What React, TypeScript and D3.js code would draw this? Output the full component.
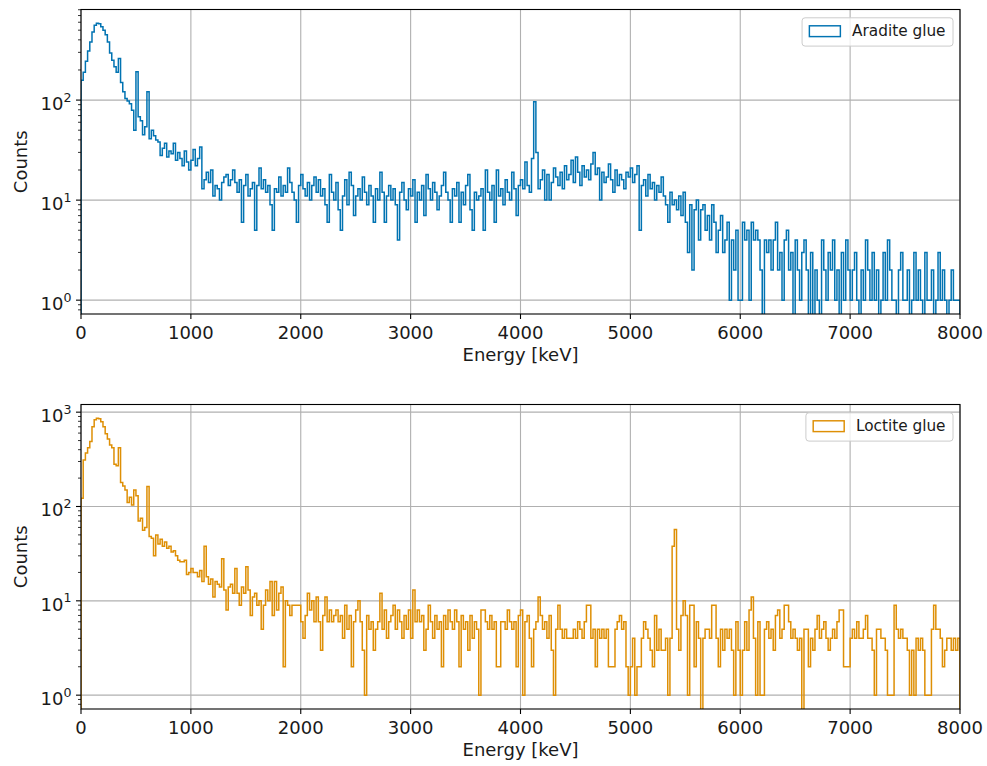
import React from 'react';
import * as d3 from 'd3';

// ---------------- data ----------------
const ENERGY_MAX = 8000; // keV
const BIN_KEV = 20;
const X_TICKS = [0, 1000, 2000, 3000, 4000, 5000, 6000, 7000, 8000];
const SERIES_NAMES = ['Aradite glue', 'Loctite glue'];
const SERIES_COLORS = ['#0173B2', '#DE8F05'];
const X_LABEL = 'Energy [keV]';
const Y_LABEL = 'Counts';

// counts per 20 keV bin, 0 .. 8000 keV
const ARADITE_COUNTS = [
  158, 190, 245, 310, 380, 480, 560, 585, 580, 540,
  500, 450, 380, 295, 250, 215, 190, 261, 150, 121,
  104, 98, 92, 79, 50, 192, 68, 62, 45, 54,
  121, 41, 50, 44, 40, 38, 28, 33, 37, 27,
  31, 29, 37, 25, 30, 26, 22, 31, 24, 20,
  25, 32, 22, 26, 34, 13, 16, 19, 15, 20,
  11, 14, 13, 10, 15, 17, 18, 14, 16, 20,
  15, 12, 16, 6, 14, 18, 11, 13, 15, 5,
  14, 21, 13, 16, 12, 14, 9, 5, 13, 12,
  17, 11, 14, 12, 21, 15, 12, 10, 6, 14,
  18, 13, 11, 15, 10, 14, 17, 12, 16, 11,
  13, 9, 6, 18, 12, 10, 15, 8, 5, 11,
  16, 9, 19, 14, 7, 11, 13, 10, 17, 12,
  9, 14, 11, 6, 13, 10, 19, 12, 6, 11,
  14, 10, 13, 9, 4, 12, 15, 10, 8, 13,
  11, 16, 6, 12, 10, 14, 7, 18, 13, 10,
  15, 12, 8, 11, 14, 19, 12, 10, 6, 13,
  11, 15, 6, 12, 9, 14, 18, 8, 5, 12,
  10, 11, 13, 5, 20, 12, 10, 14, 6, 20,
  11, 13, 9, 16, 12, 10, 19, 13, 7, 14,
  16, 13, 24, 14, 12, 26, 96, 30, 13, 16,
  20, 10, 18, 10, 15, 21, 17, 14, 19, 13,
  22, 16, 18, 25, 15, 27, 19, 14, 22, 17,
  20, 16, 23, 30, 18, 21, 10, 19, 15, 17,
  23, 16, 12, 20, 14, 18, 16, 13, 19, 17,
  21, 15, 18, 22, 5, 14, 16, 11, 18, 13,
  15, 10, 14, 12, 17, 11, 9, 6, 12, 9,
  10, 8, 11, 7, 12, 6, 3, 9, 2, 8,
  10, 4, 8, 9, 5, 7, 4, 9, 6, 3,
  5, 7, 3, 4, 6, 1, 4, 2, 5, 1,
  1, 6, 4, 5, 1, 6, 4, 5, 4, 2,
  0, 4, 3, 4, 2, 4, 6, 2, 3, 1,
  4, 5, 2, 3, 0, 4, 2, 1, 3, 4,
  2, 0, 3, 0, 2, 1, 0, 4, 2, 1,
  3, 2, 4, 1, 2, 0, 3, 1, 4, 2,
  1, 2, 3, 1, 0, 2, 1, 4, 2, 1,
  3, 1, 2, 0, 1, 3, 1, 4, 2, 1,
  1, 0, 2, 3, 1, 1, 2, 0, 1, 3,
  1, 2, 1, 0, 3, 1, 1, 2, 0, 1,
  3, 1, 2, 1, 0, 1, 2, 1, 1, 1,
];

const LOCTITE_COUNTS = [
  122, 312, 370, 420, 490, 700, 830, 860, 850, 790,
  700, 590, 520, 450, 420, 280, 270, 420, 180, 165,
  150, 110, 125, 104, 150, 130, 70, 75, 56, 60,
  163, 48, 46, 30, 50, 40, 45, 38, 42, 36,
  38, 33, 34, 30, 27, 26, 26, 27, 19, 20,
  22, 20, 20, 18, 21, 16, 38, 18, 15, 17,
  11, 16, 15, 14, 28, 13, 8, 14, 15, 12,
  22, 12, 9, 14, 12, 23, 13, 7, 11, 12,
  9, 10, 5, 9, 13, 10, 16, 7, 16, 8,
  12, 14, 2, 10, 9, 7, 9, 9, 9, 9,
  6, 4, 7, 12, 8, 10, 6, 11, 6, 3,
  7, 11, 6, 8, 6, 7, 8, 6, 7, 4,
  9, 5, 7, 2, 6, 8, 10, 6, 3, 1,
  7, 5, 6, 3, 5, 6, 12, 5, 8, 4,
  6, 7, 9, 5, 8, 6, 4, 7, 5, 8,
  4, 13, 6, 8, 6, 7, 3, 5, 9, 6,
  4, 7, 5, 6, 2, 7, 5, 8, 6, 5,
  8, 6, 2, 7, 5, 6, 3, 7, 4, 6,
  5, 1, 8, 8, 6, 5, 7, 5, 6, 2,
  2, 6, 6, 5, 8, 6, 5, 6, 2, 7,
  8, 1, 6, 7, 4, 2, 5, 6, 11, 7,
  5, 6, 4, 7, 3, 1, 5, 9, 5, 4,
  5, 4, 4, 4, 5, 4, 6, 5, 4, 6,
  9, 9, 4, 5, 2, 5, 4, 5, 4, 5,
  2, 2, 2, 5, 6, 7, 5, 6, 2, 1,
  2, 4, 1, 2, 2, 4, 6, 5, 4, 3,
  2, 7, 3, 5, 3, 3, 4, 1, 4, 38,
  57, 5, 3, 7, 10, 7, 1, 9, 9, 2,
  6, 4, 0, 4, 5, 5, 4, 9, 9, 4,
  2, 5, 3, 5, 4, 5, 3, 1, 6, 3,
  1, 3, 6, 3, 8, 11, 4, 1, 6, 1,
  1, 5, 6, 4, 5, 3, 7, 8, 4, 5,
  9, 9, 6, 4, 5, 4, 3, 4, 0, 5,
  5, 2, 4, 3, 5, 7, 4, 5, 6, 4,
  3, 4, 5, 4, 6, 8, 8, 2, 2, 2,
  4, 5, 4, 6, 4, 4, 5, 7, 4, 4,
  3, 1, 5, 5, 4, 4, 3, 1, 1, 1,
  9, 5, 4, 5, 4, 4, 3, 1, 3, 1,
  4, 3, 4, 3, 1, 1, 1, 5, 9, 5,
  5, 4, 2, 3, 4, 4, 3, 4, 3, 4,
];

const SERIES_COUNTS = [ARADITE_COUNTS, LOCTITE_COUNTS];

// ---------------- layout ----------------
const W = 987;
const H = 766;
const LEFT = 81;
const RIGHT = 960;
const PANEL_TOPS = [9.5, 404.5];
const PANEL_H = 304.5;
const FONT = "'DejaVu Sans', sans-serif";
const TICK_FS = 18;
const LABEL_FS = 18;
const LEGEND_FS = 15.3;
const TEXT_COLOR = '#1a1a1a';
const GRID_COLOR = '#b0b0b0';

function measure(text: string, size: number): number {
  try {
    const c = document.createElement('canvas').getContext('2d');
    if (c) {
      c.font = `${size}px 'DejaVu Sans'`;
      return c.measureText(text).width;
    }
  } catch (e) {}
  return text.length * size * 0.55;
}

function Panel({ counts, color, name, top, id }: { counts: number[]; color: string; name: string; top: number; id: string }) {
  const bottom = top + PANEL_H;
  const x = d3.scaleLinear().domain([0, ENERGY_MAX]).range([LEFT, RIGHT]);
  const positive = counts.filter((c) => c > 0);
  const loLog = Math.log10(d3.min(positive) as number);
  const hiLog = Math.log10(d3.max(positive) as number);
  const m = 0.05 * (hiLog - loLog);
  const y = d3.scaleLog().domain([Math.pow(10, loLog - m), Math.pow(10, hiLog + m)]).range([bottom, top]);
  const [d0, d1] = y.domain();

  const majors: number[] = [];
  const minors: number[] = [];
  for (let e = Math.floor(Math.log10(d0)); e <= Math.ceil(Math.log10(d1)); e++) {
    const base = Math.pow(10, e);
    if (base >= d0 && base <= d1) majors.push(e);
    for (let k = 2; k <= 9; k++) {
      const v = k * base;
      if (v >= d0 && v <= d1) minors.push(v);
    }
  }

  const below = bottom + 200;
  const yOf = (v: number) => (v > 0 ? y(v) : below);
  const pts: [number, number][] = [[x(0), below]];
  counts.forEach((c, i) => {
    pts.push([x(i * BIN_KEV), yOf(c)]);
    pts.push([x((i + 1) * BIN_KEV), yOf(c)]);
  });
  pts.push([x(ENERGY_MAX), below]);
  const path = d3.line()(pts) || '';

  const tw = measure(name, LEGEND_FS);
  const boxW = 50 + tw + 7.5;
  const boxX = RIGHT - 7 - boxW;
  const boxY = top + 8.3;

  return (
    <g>
      <defs>
        <clipPath id={id}>
          <rect x={LEFT} y={top} width={RIGHT - LEFT} height={PANEL_H} />
        </clipPath>
      </defs>
      {/* grid */}
      {X_TICKS.map((t) => (
        <line key={'gx' + t} x1={x(t)} x2={x(t)} y1={top} y2={bottom} stroke={GRID_COLOR} strokeWidth={1.1} />
      ))}
      {majors.map((e) => (
        <line key={'gy' + e} x1={LEFT} x2={RIGHT} y1={y(Math.pow(10, e))} y2={y(Math.pow(10, e))} stroke={GRID_COLOR} strokeWidth={1.1} />
      ))}
      {/* histogram step */}
      <path d={path} fill="none" stroke={color} strokeWidth={1.5} strokeLinejoin="miter" clipPath={`url(#${id})`} />
      {/* spines */}
      <rect x={LEFT} y={top} width={RIGHT - LEFT} height={PANEL_H} fill="none" stroke="#000" strokeWidth={1.1} />
      {/* x ticks */}
      {X_TICKS.map((t) => (
        <g key={'xt' + t}>
          <line x1={x(t)} x2={x(t)} y1={bottom} y2={bottom + 5} stroke="#000" strokeWidth={1.1} />
          <text x={x(t)} y={bottom + 25.3} textAnchor="middle" fontSize={TICK_FS} fontFamily={FONT} fill={TEXT_COLOR}>
            {String(t)}
          </text>
        </g>
      ))}
      {/* y ticks */}
      {minors.map((v) => (
        <line key={'ym' + v} x1={LEFT - 3} x2={LEFT} y1={y(v)} y2={y(v)} stroke="#000" strokeWidth={0.8} />
      ))}
      {majors.map((e) => (
        <g key={'yt' + e}>
          <line x1={LEFT - 5} x2={LEFT} y1={y(Math.pow(10, e))} y2={y(Math.pow(10, e))} stroke="#000" strokeWidth={1.1} />
          <text x={LEFT - 9.5} y={y(Math.pow(10, e)) + 10} textAnchor="end" fontSize={TICK_FS} fontFamily={FONT} fill={TEXT_COLOR}>
            10
            <tspan fontSize={12.6} dy={-8.5}>
              {String(e)}
            </tspan>
          </text>
        </g>
      ))}
      {/* axis labels */}
      <text x={(LEFT + RIGHT) / 2} y={bottom + 47} textAnchor="middle" fontSize={LABEL_FS} fontFamily={FONT} fill={TEXT_COLOR}>
        {X_LABEL}
      </text>
      <text
        transform={`translate(26.7, ${(top + bottom) / 2}) rotate(-90)`}
        textAnchor="middle"
        fontSize={LABEL_FS}
        fontFamily={FONT}
        fill={TEXT_COLOR}
      >
        {Y_LABEL}
      </text>
      {/* legend */}
      <rect x={boxX} y={boxY} width={boxW} height={28.3} rx={3} ry={3} fill="#fff" fillOpacity={0.8} stroke="#cccccc" strokeWidth={1} />
      <rect x={boxX + 7.3} y={boxY + 8} width={31} height={10.8} fill="none" stroke={color} strokeWidth={1.45} />
      <text x={boxX + 50} y={boxY + 18} fontSize={LEGEND_FS} fontFamily={FONT} fill={TEXT_COLOR}>
        {name}
      </text>
    </g>
  );
}

export default function App() {
  return (
    <svg width={W} height={H} style={{ position: 'absolute', left: 0, top: 0, background: '#fff' }}>
      <rect x={0} y={0} width={W} height={H} fill="#fff" />
      {SERIES_COUNTS.map((counts, i) => (
        <Panel key={i} id={'clip' + i} counts={counts} color={SERIES_COLORS[i]} name={SERIES_NAMES[i]} top={PANEL_TOPS[i]} />
      ))}
    </svg>
  );
}
